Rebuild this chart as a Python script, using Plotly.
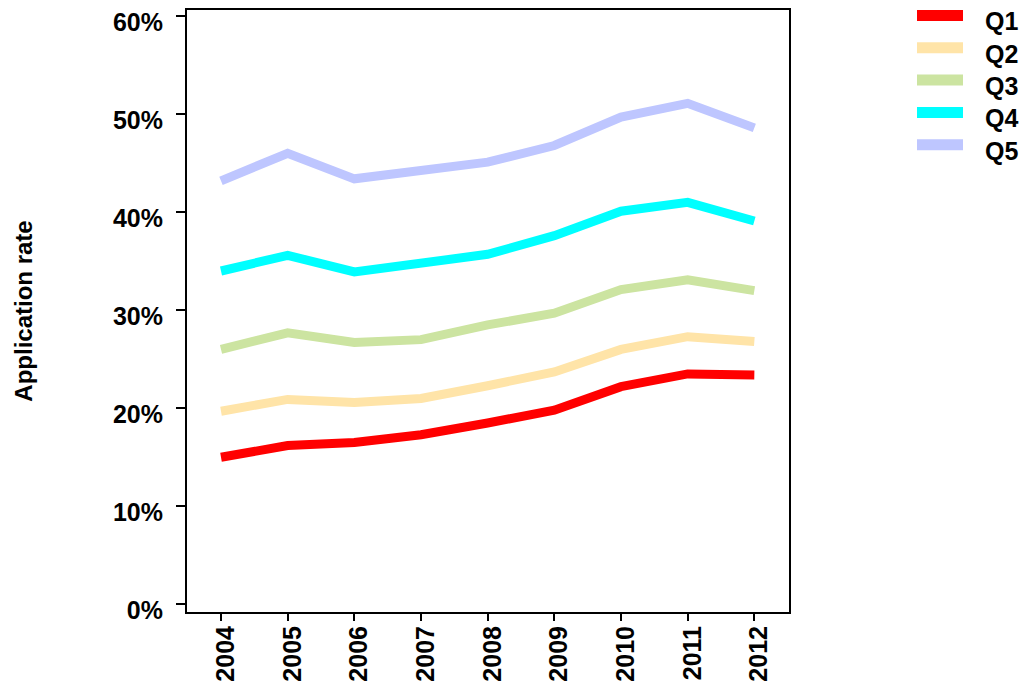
import plotly.graph_objects as go

years = [2004, 2005, 2006, 2007, 2008, 2009, 2010, 2011, 2012]
q1 = [15.0, 16.2, 16.5, 17.3, 18.5, 19.8, 22.2, 23.5, 23.4]
q2 = [19.7, 20.9, 20.6, 21.0, 22.3, 23.7, 26.0, 27.3, 26.8]
q3 = [26.0, 27.7, 26.7, 27.0, 28.5, 29.7, 32.1, 33.1, 32.0]
q4 = [34.0, 35.6, 33.9, 34.7, 35.7, 37.6, 40.1, 41.0, 39.1]
q5 = [43.2, 46.0, 43.4, 44.2, 45.1, 46.8, 49.7, 51.1, 48.6]
series_names = ["Q1", "Q2", "Q3", "Q4", "Q5"]
series_values = [q1, q2, q3, q4, q5]
colors = ["#FF0000", "#FFE4A8", "#CCE4A1", "#00FFFF", "#BEC6FF"]
y_ticks = [0, 10, 20, 30, 40, 50, 60]

FONT = "Liberation Sans, Arial, sans-serif"
OFF = 8  # default page body margin
W, H = 1028 - OFF, 690 - OFF
ML, MR, MT, MB = 187 - OFF, 239, 10 - OFF, 78
PW, PH = W - ML - MR, H - MT - MB


def px_to_paper_x(px):
    return (px - OFF - ML) / PW


def px_to_paper_y(py):
    return 1 - (py - OFF - MT) / PH


fig = go.Figure()
for name, vals, col in zip(series_names, series_values, colors):
    fig.add_trace(go.Scatter(
        x=years, y=vals, name=name, mode="lines",
        line=dict(color=col, width=9),
        showlegend=False,
    ))

# manual legend (swatches + labels) placed in the right margin
shapes = []
annotations = []
for i, (name, col) in enumerate(zip(series_names, colors)):
    yc = 15.5 + i * 32.3
    shapes.append(dict(
        type="line", xref="paper", yref="paper",
        x0=px_to_paper_x(917), x1=px_to_paper_x(963),
        y0=px_to_paper_y(yc), y1=px_to_paper_y(yc),
        line=dict(color=col, width=11),
    ))
    annotations.append(dict(
        xref="paper", yref="paper",
        x=px_to_paper_x(983), y=px_to_paper_y(yc + 6),
        xanchor="left", yanchor="middle",
        text=f"<b>{name}</b>", showarrow=False,
        font=dict(family=FONT, size=25, color="black"),
    ))

fig.update_layout(
    width=W, height=H,
    paper_bgcolor="white", plot_bgcolor="white",
    margin=dict(l=ML, r=MR, t=MT, b=MB),
    font=dict(family=FONT, size=25, color="black"),
    showlegend=False,
    shapes=shapes,
    annotations=annotations,
)

fig.update_xaxes(
    range=[2003.49, 2012.52],
    tickmode="array", tickvals=years, ticktext=[f"<b>{y}</b>" for y in years],
    tickangle=-90,
    ticks="outside", ticklen=7, tickwidth=2, tickcolor="black",
    showline=True, linewidth=2, linecolor="black", mirror=True,
    showgrid=False, zeroline=False,
    tickfont=dict(family=FONT, size=25, color="black"),
    ticklabelstandoff=-5, ticklabelshift=5,
    ticklabeloverflow="allow",
    automargin=False,
)

fig.update_yaxes(
    range=[-0.78, 60.62],
    tickmode="array", tickvals=y_ticks, ticktext=[f"<b>{v}%</b>" for v in y_ticks],
    ticks="outside", ticklen=9, tickwidth=2, tickcolor="black",
    showline=True, linewidth=2, linecolor="black", mirror=True,
    showgrid=False, zeroline=False,
    tickfont=dict(family=FONT, size=25, color="black"),
    ticklabelstandoff=8, ticklabelshift=6,
    ticklabeloverflow="allow",
    title=dict(text="<b>Application rate</b>", font=dict(family=FONT, size=24, color="black"), standoff=74),
    automargin=False,
)

fig.write_html("out.html")
